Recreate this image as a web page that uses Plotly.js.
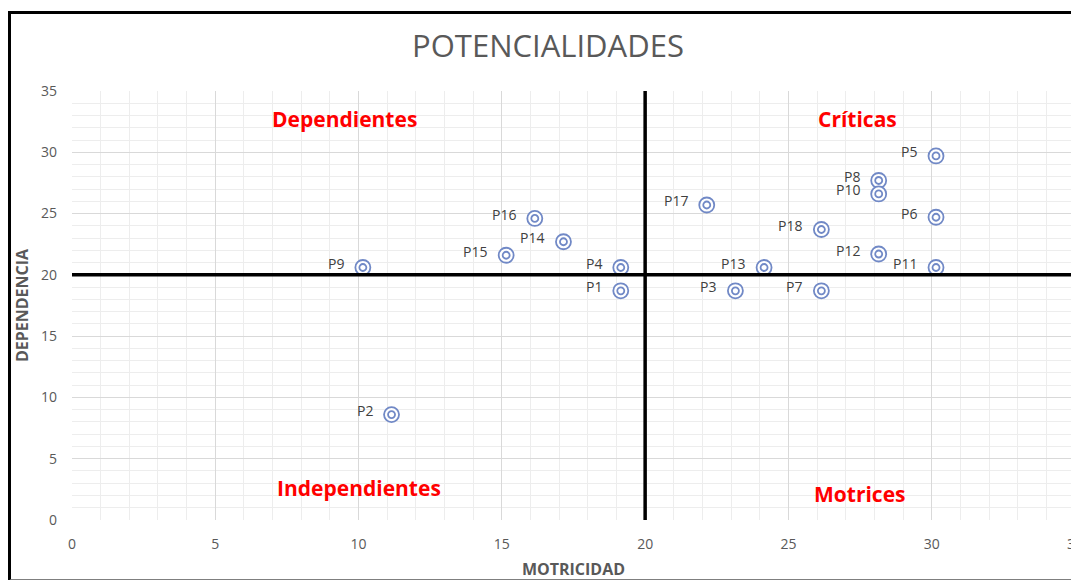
<!DOCTYPE html>
<html>
<head>
<meta charset="utf-8">
<script src="https://cdn.plot.ly/plotly-3.0.1.min.js"></script>
<style>
  html, body { margin: 0; padding: 0; background: #ffffff; overflow: hidden; width: 1071px; height: 580px; }
  #chart { position: absolute; left: 0; top: 0; width: 1100px; height: 580px; }
  #frame { position: absolute; left: 8px; top: 11px; width: 1100px; height: 565px;
           border-left: 3px solid #000; border-top: 3px solid #000; border-bottom: 2px solid #7f7f7f;
           pointer-events: none; }
</style>
</head>
<body>
<div id="chart"></div>
<div id="frame"></div>
<script>
// ---- Data ----
const pointNames = ["P1","P2","P3","P4","P5","P6","P7","P8","P9","P10","P11","P12","P13","P14","P15","P16","P17","P18"];
const motricidad = [19.15, 11.15, 23.15, 19.15, 30.15, 30.15, 26.15, 28.15, 10.15, 28.15, 30.15, 28.15, 24.15, 17.15, 15.15, 16.15, 22.15, 26.15];
const dependencia = [18.7, 8.6, 18.7, 20.6, 29.7, 24.7, 18.7, 27.7, 20.6, 26.6, 20.6, 21.7, 20.6, 22.7, 21.6, 24.6, 25.7, 23.7];
const quadrantNames = ["Dependientes", "Críticas", "Independientes", "Motrices"];
const thresholdX = 20;
const thresholdY = 20;
const axisMax = 35;
const tickValues = [0, 5, 10, 15, 20, 25, 30, 35];

const markerColor = '#7189c6';
const FONT = 'Open Sans, Noto Sans, sans-serif';
const labelFont = { family: FONT, size: 14, color: '#404040' };

const outer = {
  type: 'scatter', mode: 'markers',
  x: motricidad, y: dependencia,
  marker: { symbol: 'circle', size: 15, color: '#ffffff', line: { color: markerColor, width: 1.8 } },
  hoverinfo: 'skip', showlegend: false, cliponaxis: false
};
const inner = {
  type: 'scatter', mode: 'markers',
  x: motricidad, y: dependencia,
  marker: { symbol: 'circle-open', size: 7, color: markerColor, line: { color: markerColor, width: 1.8 } },
  hoverinfo: 'skip', showlegend: false, cliponaxis: false
};

// point labels, left of each marker
const pointLabels = pointNames.map((n, i) => ({
  text: n, x: motricidad[i], y: dependencia[i], xref: 'x', yref: 'y',
  showarrow: false, font: labelFont, xanchor: 'right', yanchor: 'middle',
  xshift: -17, yshift: 4
}));

const quadFont = { family: FONT, size: 21, color: '#ff0000', weight: 'bold' };
const quadPos = [[9.5, 32.7], [27.4, 32.7], [10.0, 2.65], [27.5, 2.15]];
const quadLabels = quadrantNames.map((t, i) => ({
  text: '<b>' + t + '</b>', x: quadPos[i][0], y: quadPos[i][1], xref: 'x', yref: 'y',
  showarrow: false, font: quadFont, xanchor: 'center', yanchor: 'middle'
}));

const tickFont = { family: FONT, size: 14, color: '#595959' };
const axisTitleFont = { family: FONT, size: 16, color: '#595959', weight: 'bold' };

const layout = {
  width: 1100, height: 580,
  margin: { l: 72, r: 25, t: 91, b: 60 },
  paper_bgcolor: 'rgba(0,0,0,0)', plot_bgcolor: '#ffffff',
  title: {
    text: 'POTENCIALIDADES',
    font: { family: FONT, size: 31, color: '#595959' },
    x: 548 / 1100, xref: 'container', xanchor: 'center',
    y: 1 - 46 / 580, yref: 'container', yanchor: 'middle'
  },
  xaxis: {
    range: [0, axisMax], tickvals: tickValues, ticktext: tickValues.map(String),
    showgrid: true, gridcolor: '#d9d9d9', gridwidth: 1,
    minor: { dtick: 1, showgrid: true, gridcolor: '#ededed', gridwidth: 1 },
    zeroline: false, showline: false, ticks: '',
    tickfont: tickFont, ticklabelstandoff: 14,
    title: { text: '<b>MOTRICIDAD</b>', font: axisTitleFont, standoff: 12 },
    fixedrange: true
  },
  yaxis: {
    range: [0, axisMax], tickvals: tickValues, ticktext: tickValues.map(String),
    showgrid: true, gridcolor: '#d9d9d9', gridwidth: 1,
    minor: { dtick: 1, showgrid: true, gridcolor: '#ededed', gridwidth: 1 },
    zeroline: false, showline: false, ticks: '',
    tickfont: tickFont, ticklabelstandoff: 14,
    title: { text: '<b>DEPENDENCIA</b>', font: axisTitleFont, standoff: 8 },
    fixedrange: true
  },
  shapes: [
    { type: 'line', xref: 'x', yref: 'y', x0: thresholdX, x1: thresholdX, y0: 0, y1: axisMax,
      line: { color: '#000000', width: 3.5 }, layer: 'above' },
    { type: 'line', xref: 'x', yref: 'y', x0: 0, x1: axisMax, y0: thresholdY, y1: thresholdY,
      line: { color: '#000000', width: 3.5 }, layer: 'above' }
  ],
  annotations: quadLabels.concat(pointLabels),
  showlegend: false
};

Plotly.newPlot('chart', [outer, inner], layout, { displayModeBar: false, staticPlot: true });
</script>
</body>
</html>
